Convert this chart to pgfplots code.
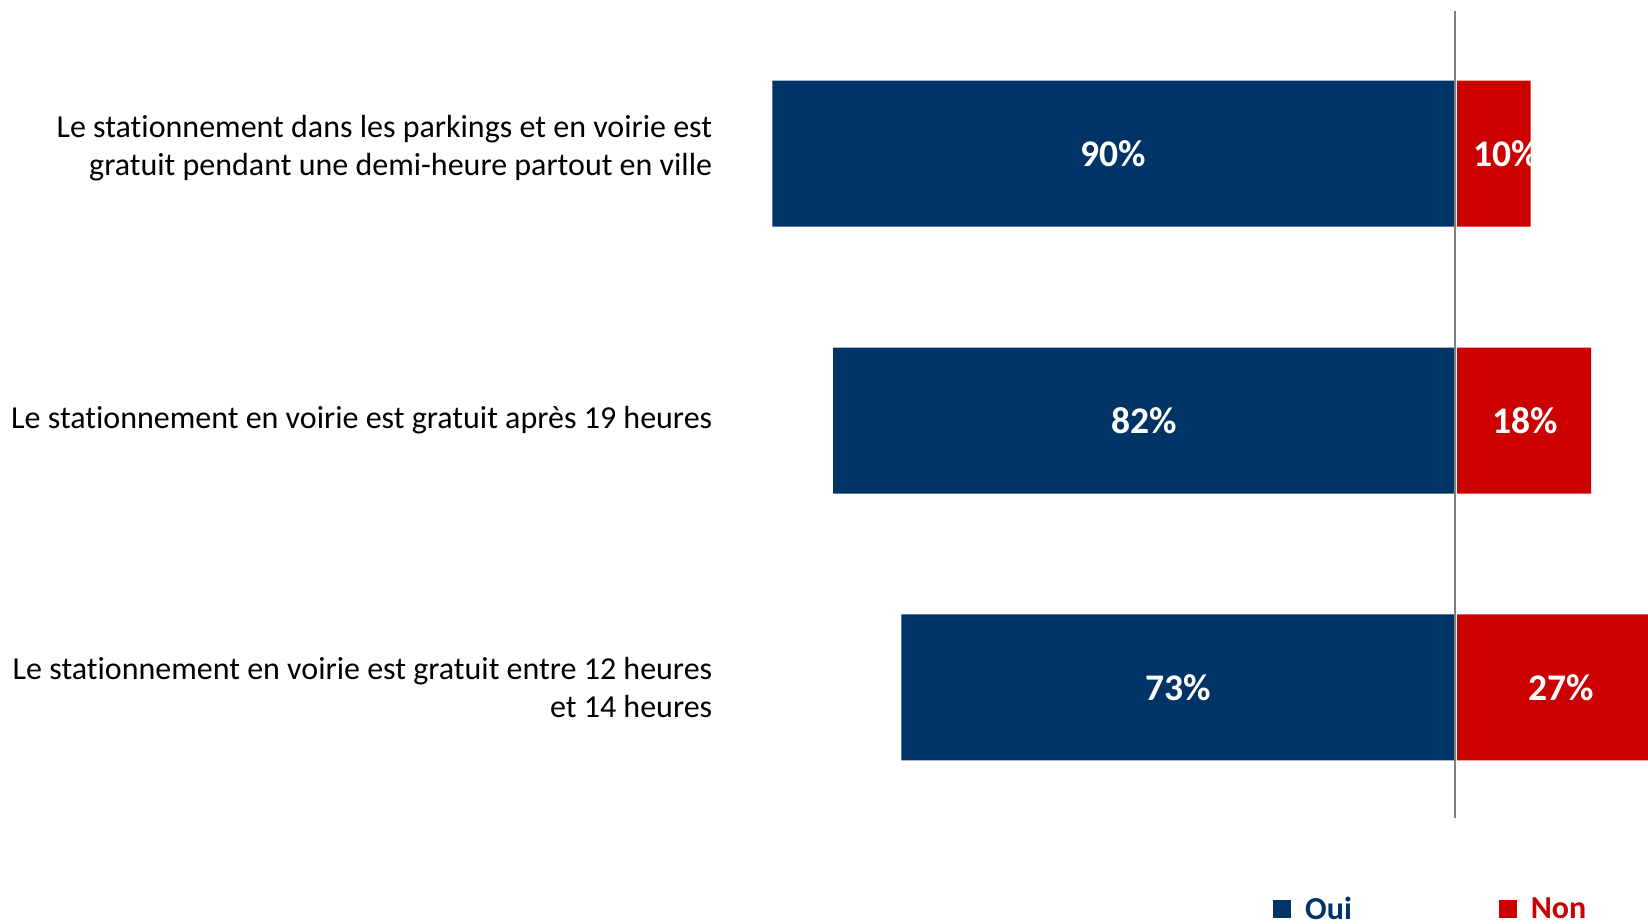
\documentclass[border=0pt]{standalone}
\usepackage{pgfplots}
\pgfplotsset{compat=1.18}
\usepackage{fontspec}
\setmainfont{Carlito}[Ligatures=NoCommon]
\definecolor{oui}{RGB}{0,51,102}
\definecolor{non}{RGB}{204,0,0}
\begin{document}
\begin{tikzpicture}
\useasboundingbox (0,0) rectangle (824pt,461.5pt);
\begin{axis}[
  at={(370pt,52.65pt)}, anchor=south west,
  scale only axis, width=454pt, height=403.6pt,
  xmin=-94.27, xmax=25.5,
  ymin=-0.536, ymax=2.488, y dir=reverse,
  enlargelimits=false,
  ytick={0,1,2},
  yticklabels={{Le stationnement dans les parkings et en voirie est\\gratuit pendant une demi-heure partout en ville\rule[-8pt]{0pt}{0pt}},{Le stationnement en voirie est gratuit après 19 heures},{Le stationnement en voirie est gratuit entre 12 heures\\et 14 heures}},
  yticklabel style={align=right, font=\fontsize{16}{19}\selectfont, inner sep=0pt},
  yticklabel shift=13.7pt,
  xtick=\empty,
  axis line style={draw=none},
  tick style={draw=none},
  legend style={at={(0.5868,-0.1136)}, anchor=west, draw=none, fill=none, inner sep=0pt,
    font=\fontsize{16}{18}\selectfont\bfseries,
    /tikz/every odd column/.append style={column sep=5pt},
    /tikz/every even column/.append style={column sep=71.5pt}},
  legend columns=2,
  legend image code/.code={\draw[#1,draw=none] (0pt,-4.5pt) rectangle (9pt,4.5pt);},
]
\addplot[xbar, bar width=0.547, bar shift=0pt, fill=oui, draw=none] coordinates {(-90,0) (-82,1) (-73,2)};
\addlegendentry{\textcolor{oui}{Oui}}
\addplot[xbar, bar width=0.547, bar shift=0pt, fill=non, draw=none] coordinates {(10,0) (18,1) (27,2)};
\addlegendentry{\textcolor{non}{Non}}
\draw[white, line width=1pt] (axis cs:0.22,-0.536) -- (axis cs:0.22,2.488);
\draw[gray, line width=1pt] (axis cs:0,-0.536) -- (axis cs:0,2.488);
\addplot[forget plot, only marks, mark=none, nodes near coords, point meta=explicit symbolic,
  nodes near coords style={anchor=center, text=white, font=\fontsize{18.8}{20}\selectfont\bfseries}]
  coordinates {(-45,0) [90\%] (-41,1) [82\%] (-36.5,2) [73\%] (6.8,0) [10\%] (9.3,1) [18\%] (14,2) [27\%]};
\end{axis}
\end{tikzpicture}
\end{document}
